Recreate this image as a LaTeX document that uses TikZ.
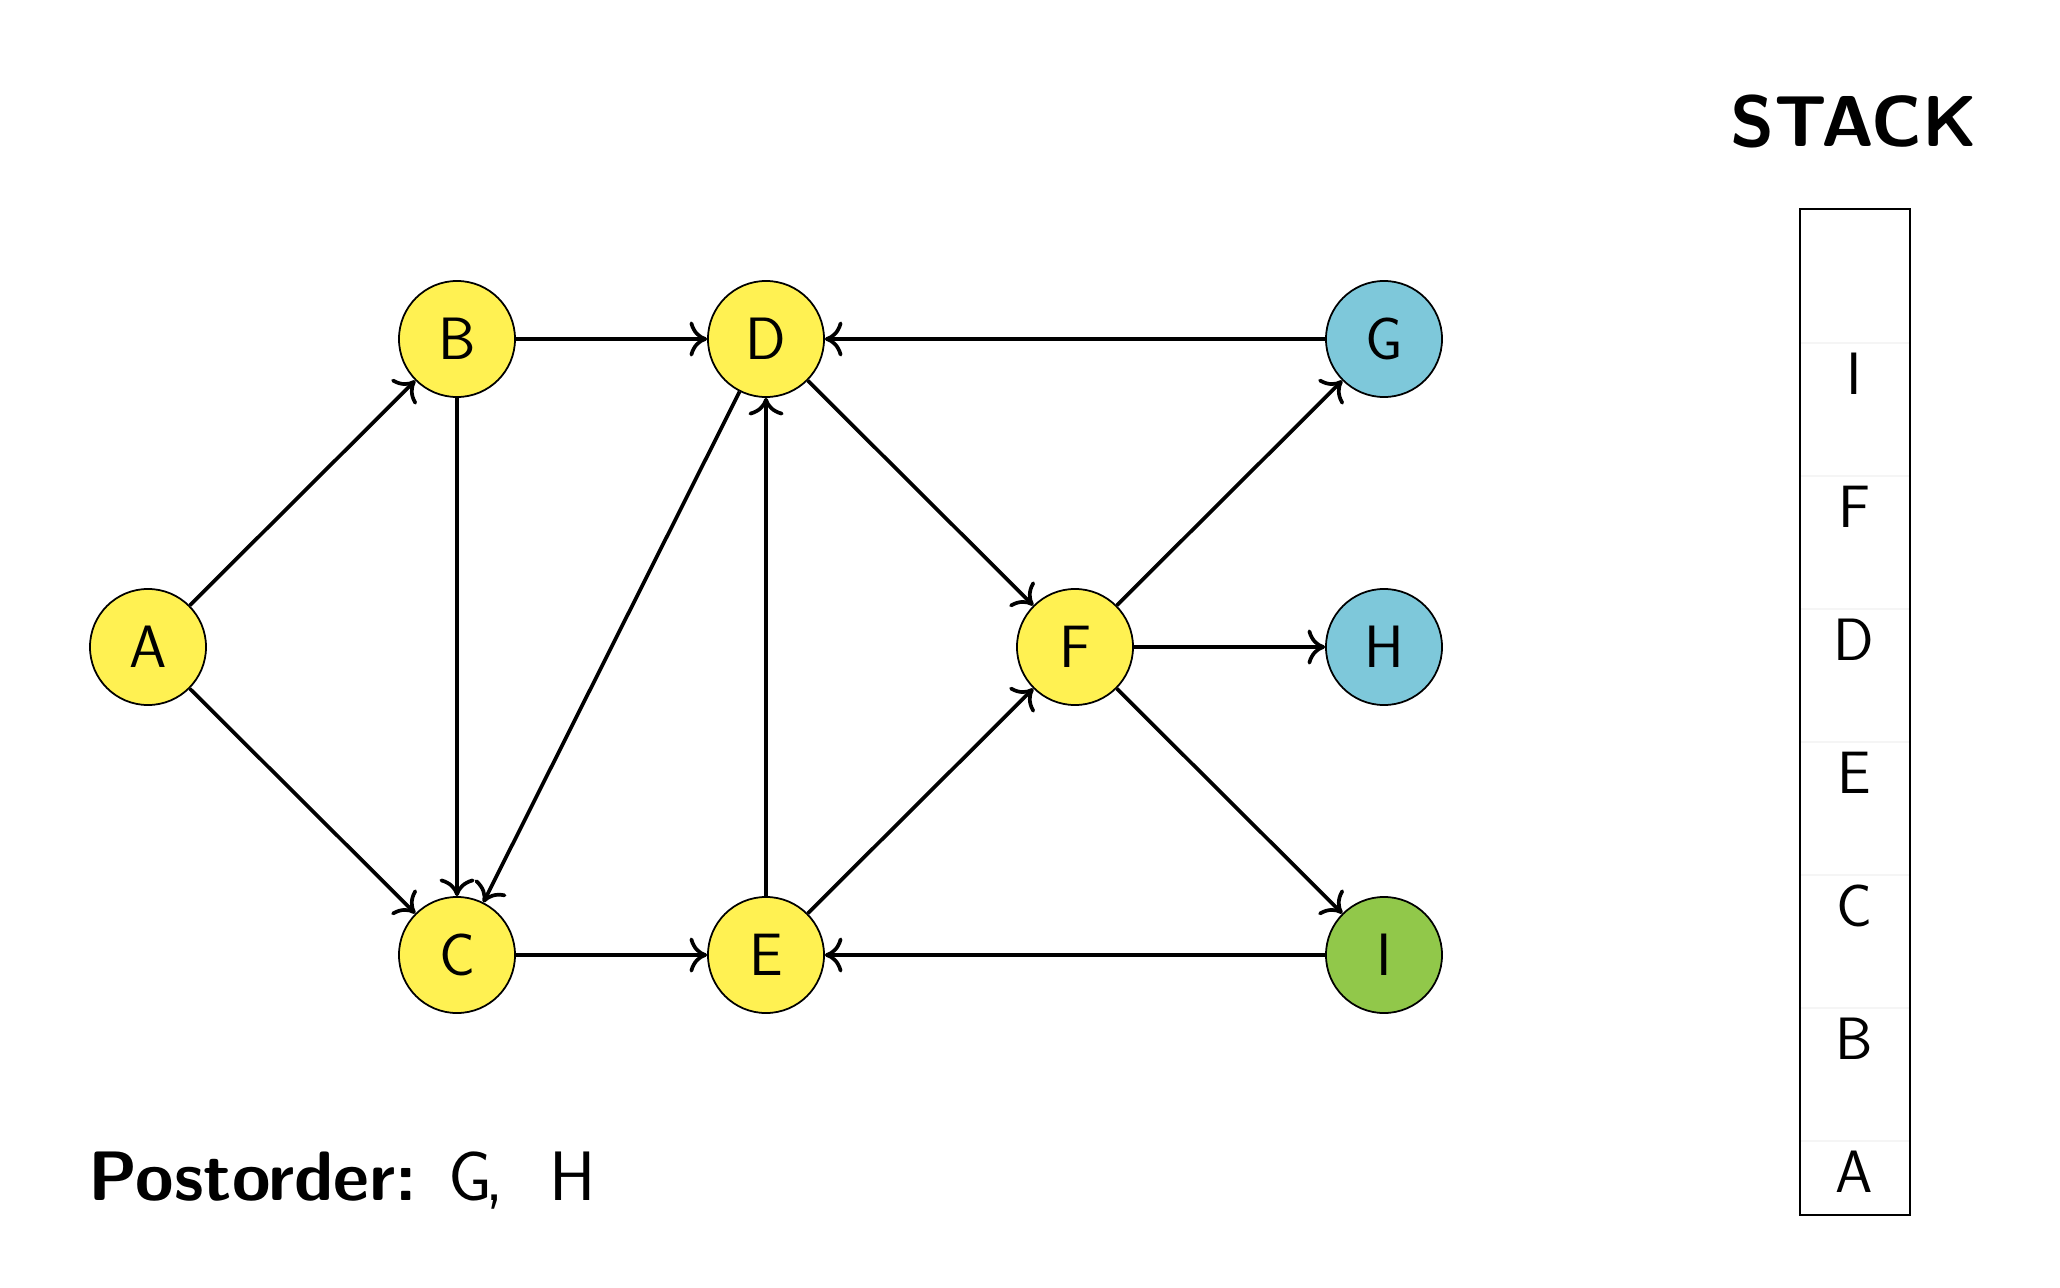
\documentclass[tikz,border=0pt]{standalone}
\usetikzlibrary{arrows.meta}
\definecolor{openyellow}{RGB}{255,241,82}
\definecolor{doneblue}{RGB}{126,200,218}
\definecolor{activegreen}{RGB}{145,200,74}
\begin{document}
\begin{tikzpicture}[x=0.01cm,y=-0.01cm,
  vertex/.style={circle, draw=black, line width=0.5pt, minimum size=1.16cm, inner sep=0pt,
    font=\fontsize{17}{20}\selectfont\sffamily},
  link/.style={line width=1.05pt, -{To[length=5pt,width=10pt]}},
  cellsep/.style={black!4, line width=0.4pt},
  stackitem/.style={font=\fontsize{17}{20}\selectfont\sffamily, inner sep=0pt},
]
\useasboundingbox (0,0) rectangle (2060,1288);

% graph vertices
\node[vertex, fill=openyellow] (A) at (148,647) {A};
\node[vertex, fill=openyellow] (B) at (457,339) {B};
\node[vertex, fill=openyellow] (C) at (457,955) {C};
\node[vertex, fill=openyellow] (D) at (766,339) {D};
\node[vertex, fill=openyellow] (E) at (766,955) {E};
\node[vertex, fill=openyellow] (F) at (1075,647) {F};
\node[vertex, fill=doneblue] (G) at (1384,339) {G};
\node[vertex, fill=doneblue] (H) at (1384,647) {H};
\node[vertex, fill=activegreen] (I) at (1384,955) {I};

% directed edges
\draw[link] (A) -- (B);
\draw[link] (A) -- (C);
\draw[link] (B) -- (D);
\draw[link] (B) -- (C);
\draw[link] (D) -- (C);
\draw[link] (D) -- (F);
\draw[link] (E) -- (D);
\draw[link] (C) -- (E);
\draw[link] (E) -- (F);
\draw[link] (F) -- (G);
\draw[link] (F) -- (H);
\draw[link] (F) -- (I);
\draw[link] (G) -- (D);
\draw[link] (I) -- (E);

% stack
\node[font=\fontsize{20.5}{24}\selectfont\sffamily\bfseries] (title) at (1854,121) {STACK};
\foreach \yy in {343,476,609,742,875,1008,1141}
  \draw[cellsep] (1800,\yy) -- (1910,\yy);
\draw[line width=0.6pt] (1800,209) rectangle (1910,1215);
\foreach \lbl [count=\k from 0] in {I,F,D,E,C,B,A}
  \node[stackitem] (s\lbl) at (1854,374+133*\k) {\lbl};

% postorder
\node[anchor=base west, inner sep=0pt, font=\fontsize{19.9}{24}\selectfont\sffamily] (post) at (88,1200)
  {\textbf{Postorder:}\hspace{0.32cm}G\kern-0.07cm,\hspace{0.45cm}H};
\end{tikzpicture}
\end{document}
